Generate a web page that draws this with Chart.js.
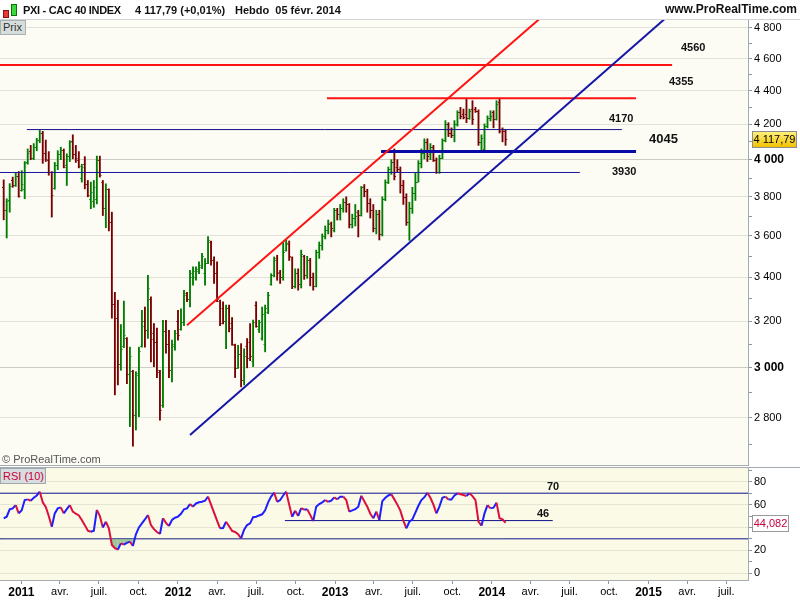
<!DOCTYPE html>
<html>
<head>
<meta charset="utf-8">
<style>
body{margin:0;width:800px;height:600px;overflow:hidden;background:#fff;position:relative;font-family:"Liberation Sans",Arial,sans-serif}
canvas{position:absolute;left:0}
.abs{position:absolute;white-space:nowrap;line-height:12px}
.lvl{font-weight:bold;font-size:11px;color:#111}
.head{font-weight:bold;font-size:11px;color:#111;top:4px}
.line{position:absolute;height:1px;background:#a4acb2}
</style>
</head>
<body>
<canvas id="priceChart" width="800" height="466" style="top:0"></canvas>
<canvas id="rsiChart" width="800" height="134" style="top:466px"></canvas>

<div class="line" style="left:0;top:19px;width:800px;background:#d0d4d6"></div>
<div class="line" style="left:0;top:465px;width:748px"></div>
<div class="line" style="left:0;top:467px;width:800px"></div>

<div class="abs" style="left:3px;top:10px;width:4px;height:6px;background:#e83a3a;border:1px solid #8a1010"></div>
<div class="abs" style="left:11px;top:4px;width:4px;height:10px;background:#3ad83a;border:1px solid #0a700a"></div>
<span class="abs head" style="left:23px;letter-spacing:-0.3px">PXI - CAC 40 INDEX</span>
<span class="abs head" style="left:135px">4 117,79 (+0,01%)</span>
<span class="abs head" style="left:235px">Hebdo&nbsp; 05 févr. 2014</span>
<span class="abs head" style="right:3px;font-size:12px;top:3px">www.ProRealTime.com</span>

<div class="abs" style="left:0;top:20px;width:22px;height:13px;background:#d6dedb;border:1px solid #a8b0b0;font-size:11px;color:#333;padding-left:2px;line-height:13px">Prix</div>
<span class="abs" style="left:2px;top:453px;font-size:11px;color:#555">© ProRealTime.com</span>

<span class="abs lvl" style="left:681px;top:41px">4560</span>
<span class="abs lvl" style="left:669px;top:75px">4355</span>
<span class="abs lvl" style="left:609px;top:112px">4170</span>
<span class="abs lvl" style="left:649px;top:132px;font-size:13px;line-height:14px">4045</span>
<span class="abs lvl" style="left:612px;top:165px">3930</span>

<div class="abs" style="left:752px;top:131px;width:43px;height:15px;background:linear-gradient(#fff07a,#f2c200);border:1px solid #8c8c8c;font-size:11px;line-height:15px;text-align:center;color:#000">4 117,79</div>

<div class="abs" style="left:0;top:468px;width:42px;height:14px;background:#d8dde0;border:1px solid #a0a8b0;font-size:11px;line-height:14px;color:#c8003c;padding-left:2px">RSI (10)</div>
<span class="abs lvl" style="left:547px;top:480px">70</span>
<span class="abs lvl" style="left:537px;top:507px">46</span>
<div class="abs" style="left:752px;top:515px;width:35px;height:15px;background:#fff;border:1px solid #9a9a9a;font-size:11px;line-height:15px;text-align:center;color:#c8003c">44,082</div>

<script src="https://cdn.jsdelivr.net/npm/chart.js"></script>
<script>
// x values are days counted from 1 Jan 2011; one bar per week, first bar = week of 22 Nov 2010
var firstBarDay = -41;
var dayMin = -49.6, dayMax = 1692.8;

var opens = [3850,3730,3785,3890,3862,3910,3835,3840,3985,4050,4010,4070,4110,4150,4040,4000,3930,3845,3970,4030,4055,3970,4020,4105,4030,4000,3900,3975,3870,3790,3780,3790,4000,3880,3740,3840,3670,3275,3213,3016,3090,3125,2975,2985,2810,2970,3090,3200,3160,3300,3150,3110,2984,2850,3155,3100,2990,3090,3200,3165,3195,3325,3300,3400,3400,3430,3450,3420,3470,3570,3480,3420,3290,3260,3200,3260,3190,3095,3000,3060,2950,3090,3110,3030,3270,3165,3125,3100,3240,3370,3410,3490,3425,3400,3530,3560,3495,3360,3420,3370,3500,3410,3480,3400,3360,3520,3555,3600,3630,3665,3630,3730,3710,3740,3775,3760,3660,3690,3720,3705,3850,3830,3770,3730,3640,3710,3610,3790,3880,3950,3990,3960,3950,3860,3800,3670,3740,3820,3880,3980,4040,4100,4030,4070,4000,3935,4010,4110,4200,4150,4140,4200,4270,4260,4260,4240,4290,4290,4280,4100,4060,4190,4240,4270,4230,4330,4175,4160];
var highs = [3890,3790,3870,3905,3930,3935,3940,3990,4060,4080,4090,4120,4165,4160,4110,4045,3935,3985,4050,4070,4060,4033,4107,4140,4080,4045,3975,4017,3887,3878,3887,4020,4020,3887,3869,3842,3720,3330,3294,3185,3290,3128,3087,2990,2984,3087,3248,3263,3409,3309,3189,3170,2990,3204,3204,3160,3117,3160,3248,3255,3339,3330,3433,3449,3449,3473,3514,3489,3597,3575,3497,3473,3294,3287,3272,3272,3216,3100,3095,3102,3080,3124,3189,3205,3287,3204,3263,3272,3330,3417,3497,3505,3433,3569,3580,3575,3497,3440,3440,3530,3505,3500,3490,3420,3530,3570,3610,3650,3680,3670,3740,3740,3760,3790,3800,3765,3710,3760,3730,3855,3865,3840,3790,3760,3730,3730,3800,3890,3960,4000,4060,4000,3960,3887,3816,3772,3850,3925,3995,4060,4117,4117,4090,4080,4010,4025,4117,4222,4210,4180,4222,4280,4300,4290,4352,4290,4340,4300,4285,4140,4203,4250,4280,4280,4340,4352,4180,4170];
var lows = [3681,3590,3720,3850,3855,3798,3830,3790,3975,4000,4000,4050,4095,3980,3990,3915,3695,3840,3945,4000,3955,3860,3990,4005,3985,3955,3878,3842,3800,3738,3745,3763,3905,3703,3641,3625,3213,2890,2930,2990,3085,2935,2766,2692,2753,2804,3087,3087,3124,3025,3005,2960,2791,2840,3061,2960,2942,3074,3117,3160,3180,3287,3263,3363,3386,3417,3441,3363,3465,3457,3371,3287,3180,3188,3081,3153,3095,2960,2998,2922,2930,3000,3030,3005,3173,3150,3117,3067,3233,3363,3402,3386,3371,3386,3525,3480,3347,3350,3340,3350,3390,3395,3360,3340,3355,3490,3530,3585,3610,3595,3620,3680,3680,3720,3720,3640,3640,3650,3595,3700,3800,3720,3690,3620,3610,3580,3600,3780,3870,3920,3890,3930,3820,3760,3653,3578,3714,3781,3878,3955,4005,3990,4000,3990,3925,3925,4005,4100,4130,4124,4100,4190,4232,4232,4210,4230,4200,4270,4080,4045,4045,4180,4220,4180,4225,4150,4100,4080];
var closes = [3730,3780,3855,3862,3910,3805,3870,3980,4040,4010,4070,4110,4150,4040,4005,3935,3810,3970,4030,4055,3960,4020,4100,4030,4010,3965,3960,3870,3810,3825,3850,4000,3915,3740,3840,3670,3278,3213,3016,3080,3140,2975,3050,2810,2980,3070,3180,3160,3350,3120,3110,2990,2830,3155,3100,2990,3100,3150,3140,3195,3320,3300,3420,3430,3440,3460,3500,3470,3580,3480,3420,3300,3190,3200,3260,3170,3100,3000,3060,2950,3050,3040,3050,3195,3180,3195,3230,3260,3320,3410,3480,3420,3400,3520,3565,3500,3360,3420,3370,3510,3410,3480,3400,3360,3520,3555,3600,3630,3660,3640,3730,3710,3740,3775,3760,3660,3690,3700,3705,3850,3830,3770,3730,3640,3710,3610,3790,3880,3950,3990,3910,3950,3860,3800,3670,3740,3820,3880,3980,4040,4100,4020,4070,4000,3935,4010,4110,4200,4150,4140,4200,4270,4250,4245,4240,4280,4230,4280,4100,4120,4190,4240,4250,4230,4320,4160,4160,4117.79];
var rsiValues = [48,49.4,55.9,56.7,59.6,52.3,55,64,64.6,63.4,66,68,71.3,62,58,50,40.6,52.3,56.7,57.6,52.3,56,59.6,53.8,52,50.5,46.5,42,37.1,36.2,37.1,55.3,50,40,45,39.2,24.6,21.8,20.5,26,25,26.5,27.5,23.7,34,40,43.5,47,50.9,42,38.5,36,34.2,48,44,41.2,46.5,48.5,49.5,52,55.9,56.7,60.5,58.2,61,62,62.5,63.4,67,60,53,46,39.2,39.5,45,41,37,36,34,30.4,38,42.1,43.6,49,49.4,50.5,51.5,55,62,67,70.5,62.5,64,68,71.3,60,49.4,54.7,50,57,55.5,55.9,51,45.6,58.2,60.5,62,64,62.5,63.5,66.4,64.6,67,67,64,53.8,55,56,58.2,67.8,63,58.2,52,48,53.8,46.5,63,66,68,69,64.6,60,54.7,46,39.2,45,47,53,59,64,66.5,70.4,66,60,52.3,58.2,66,67,64.5,64.5,68,69.9,69,68.4,67.5,69.9,67.5,64,45,41.5,52.3,59.6,56.7,57.3,61.7,48,47,44.082];

// drawn levels and trend lines (day, price)
var levelValues = [4560, 4355, 4170, 4045, 3930];
var levelStart = [-50, 712, 13, 838, -50];
var levelEnd = [1516, 1432, 1399, 1432, 1301];
var redChannelDays = [386, 1255], redChannelValues = [3182, 4981];
var blueChannelDays = [393, 1534], blueChannelValues = [2734, 4949];
var rsiLevels = [70, 30];
var rsiSupportDays = [614, 1238], rsiSupportValue = 46;

// axis ticks
var quarterDays = [0,90,181,273,365,456,547,639,731,821,912,1004,1096,1186,1277,1369,1461,1551,1642];
var quarterLabels = ['2011','avr.','juil.','oct.','2012','avr.','juil.','oct.','2013','avr.','juil.','oct.','2014','avr.','juil.','oct.','2015','avr.','juil.'];
var priceTicks = [2700,2800,2900,3000,3100,3200,3300,3400,3500,3600,3700,3800,3900,4000,4100,4200,4300,4400,4500,4600,4700,4800];
var priceMin = 2623, priceMax = 4852;
var rsiTicks = [0,10,20,30,40,50,60,70,80,90];
var rsiMin = -6.1, rsiMax = 92.1;

Chart.defaults.font.family = "'Liberation Sans', Arial, sans-serif";
Chart.defaults.color = '#000';

function spaced(v){ return String(v).replace(/\B(?=(\d{3})+(?!\d))/g, ' '); }
function barDay(i){ return firstBarDay + 7 * i; }
function noPadY(s){ s.width = 52; s.paddingTop = 0; s.paddingBottom = 0; }

var panelBg = {
  id: 'panelBg',
  beforeDraw: function(chart, args, opts){
    var a = chart.chartArea, c = chart.ctx;
    c.save();
    c.fillStyle = opts.color;
    c.fillRect(a.left, a.top, a.right - a.left, a.bottom - a.top);
    c.restore();
  }
};

// open tick on the left, close tick on the right of each bar
var ohlcTicks = {
  id: 'ohlcTicks',
  afterDatasetsDraw: function(chart){
    var xs = chart.scales.x, ys = chart.scales.y, c = chart.ctx;
    c.save();
    for (var i = 0; i < opens.length; i++) {
      var px = xs.getPixelForValue(barDay(i));
      c.fillStyle = closes[i] >= opens[i] ? '#007c00' : '#780000';
      c.fillRect(px - 1.6, Math.round(ys.getPixelForValue(opens[i])), 1, 1);
      c.fillRect(px + 0.6, Math.round(ys.getPixelForValue(closes[i])), 1, 1);
    }
    c.restore();
  }
};

function lineSet(days, values, color, width){
  return {
    type: 'line',
    data: days.map(function(d, i){ return {x: d, y: values[i]}; }),
    borderColor: color, borderWidth: width,
    pointRadius: 0, fill: false, tension: 0
  };
}

var priceSets = [
  lineSet(redChannelDays, redChannelValues, '#ff1414', 2),
  lineSet(blueChannelDays, blueChannelValues, '#1616a8', 2)
];
var levelColors = ['#ff1414', '#ff1414', '#10108c', '#0a0aa6', '#14149c'];
var levelWidths = [2, 2, 1, 3, 1];
levelValues.forEach(function(v, i){
  priceSets.push(lineSet([levelStart[i], levelEnd[i]], [v, v], levelColors[i], levelWidths[i]));
});
priceSets.push({
  type: 'bar',
  data: lows.map(function(l, i){ return {x: barDay(i), y: [l, highs[i]]}; }),
  backgroundColor: closes.map(function(c, i){ return c >= opens[i] ? '#007c00' : '#780000'; }),
  borderWidth: 0,
  barThickness: 1.2
});

new Chart(document.getElementById('priceChart'), {
  type: 'bar',
  data: { datasets: priceSets },
  options: {
    responsive: false, animation: false, events: [],
    layout: { padding: { top: 20, bottom: 1, left: 0, right: 0 } },
    plugins: { legend: { display: false }, tooltip: { enabled: false }, panelBg: { color: '#fcfcf4' } },
    scales: {
      x: { type: 'linear', display: false, min: dayMin, max: dayMax, offset: false },
      y: {
        type: 'logarithmic', position: 'right', min: priceMin, max: priceMax,
        afterBuildTicks: function(s){
          s.ticks = priceTicks.map(function(v){ return {value: v}; });
        },
        afterFit: noPadY,
        border: { color: '#a4acb2' },
        grid: {
          color: function(ctx){
            var v = ctx.tick ? ctx.tick.value : 0;
            if (v % 200 !== 0) return 'rgba(0,0,0,0)';
            return (v === 3000 || v === 4000) ? '#cdcdc6' : '#e2e2da';
          },
          tickColor: '#8e969e', tickLength: 4
        },
        ticks: {
          autoSkip: false, padding: 2,
          callback: function(v){ return v % 200 === 0 ? spaced(v) : ''; },
          font: function(ctx){
            var v = ctx.tick ? ctx.tick.value : 0;
            return (v === 3000 || v === 4000) ? { size: 12, weight: 'bold' } : { size: 11 };
          }
        }
      }
    }
  },
  plugins: [panelBg, ohlcTicks]
});

var rsiSets = [
  {
    type: 'line',
    data: rsiValues.map(function(v, i){ return {x: barDay(i), y: v}; }),
    borderColor: '#1e1eff', borderWidth: 2, pointRadius: 0, tension: 0,
    segment: { borderColor: function(c){ return c.p1.parsed.y >= c.p0.parsed.y ? '#1e1eff' : '#dc103c'; } },
    fill: { target: { value: 30 }, above: 'rgba(0,0,0,0)', below: 'rgba(128,180,128,0.75)' }
  }
];
rsiLevels.forEach(function(v){
  rsiSets.push(lineSet([dayMin, dayMax], [v, v], '#10108c', 1));
});
rsiSets.push(lineSet(rsiSupportDays, [rsiSupportValue, rsiSupportValue], '#10108c', 1));

new Chart(document.getElementById('rsiChart'), {
  type: 'line',
  data: { datasets: rsiSets },
  options: {
    responsive: false, animation: false, events: [],
    layout: { padding: { top: 2, bottom: 0, left: 0, right: 0 } },
    plugins: { legend: { display: false }, tooltip: { enabled: false }, panelBg: { color: '#fafae6' } },
    scales: {
      x: {
        type: 'linear', min: dayMin, max: dayMax, offset: false,
        afterBuildTicks: function(s){ s.ticks = quarterDays.map(function(v){ return {value: v}; }); },
        afterFit: function(s){ s.height = 20; s.paddingLeft = 0; s.paddingRight = 0; },
        border: { color: '#a4acb2' },
        grid: { drawOnChartArea: false, color: '#8e969e', tickLength: 4 },
        ticks: {
          autoSkip: false, maxRotation: 0, padding: 1,
          callback: function(v, i){ return quarterLabels[i]; },
          font: function(ctx){
            var lab = quarterLabels[ctx.index] || '';
            return /^\d/.test(lab) ? { size: 12, weight: 'bold' } : { size: 11 };
          }
        }
      },
      y: {
        type: 'linear', position: 'right', min: rsiMin, max: rsiMax,
        afterBuildTicks: function(s){
          s.ticks = rsiTicks.map(function(v){ return {value: v}; });
        },
        afterFit: noPadY,
        border: { color: '#a4acb2' },
        grid: {
          color: function(ctx){
            var v = ctx.tick ? ctx.tick.value : 1;
            return v % 20 === 0 ? '#e4e4d2' : 'rgba(0,0,0,0)';
          },
          tickColor: '#8e969e', tickLength: 4
        },
        ticks: {
          autoSkip: false, padding: 2, font: { size: 11 },
          callback: function(v){ return v % 20 === 0 ? String(v) : ''; }
        }
      }
    }
  },
  plugins: [panelBg]
});
</script>
</body>
</html>
